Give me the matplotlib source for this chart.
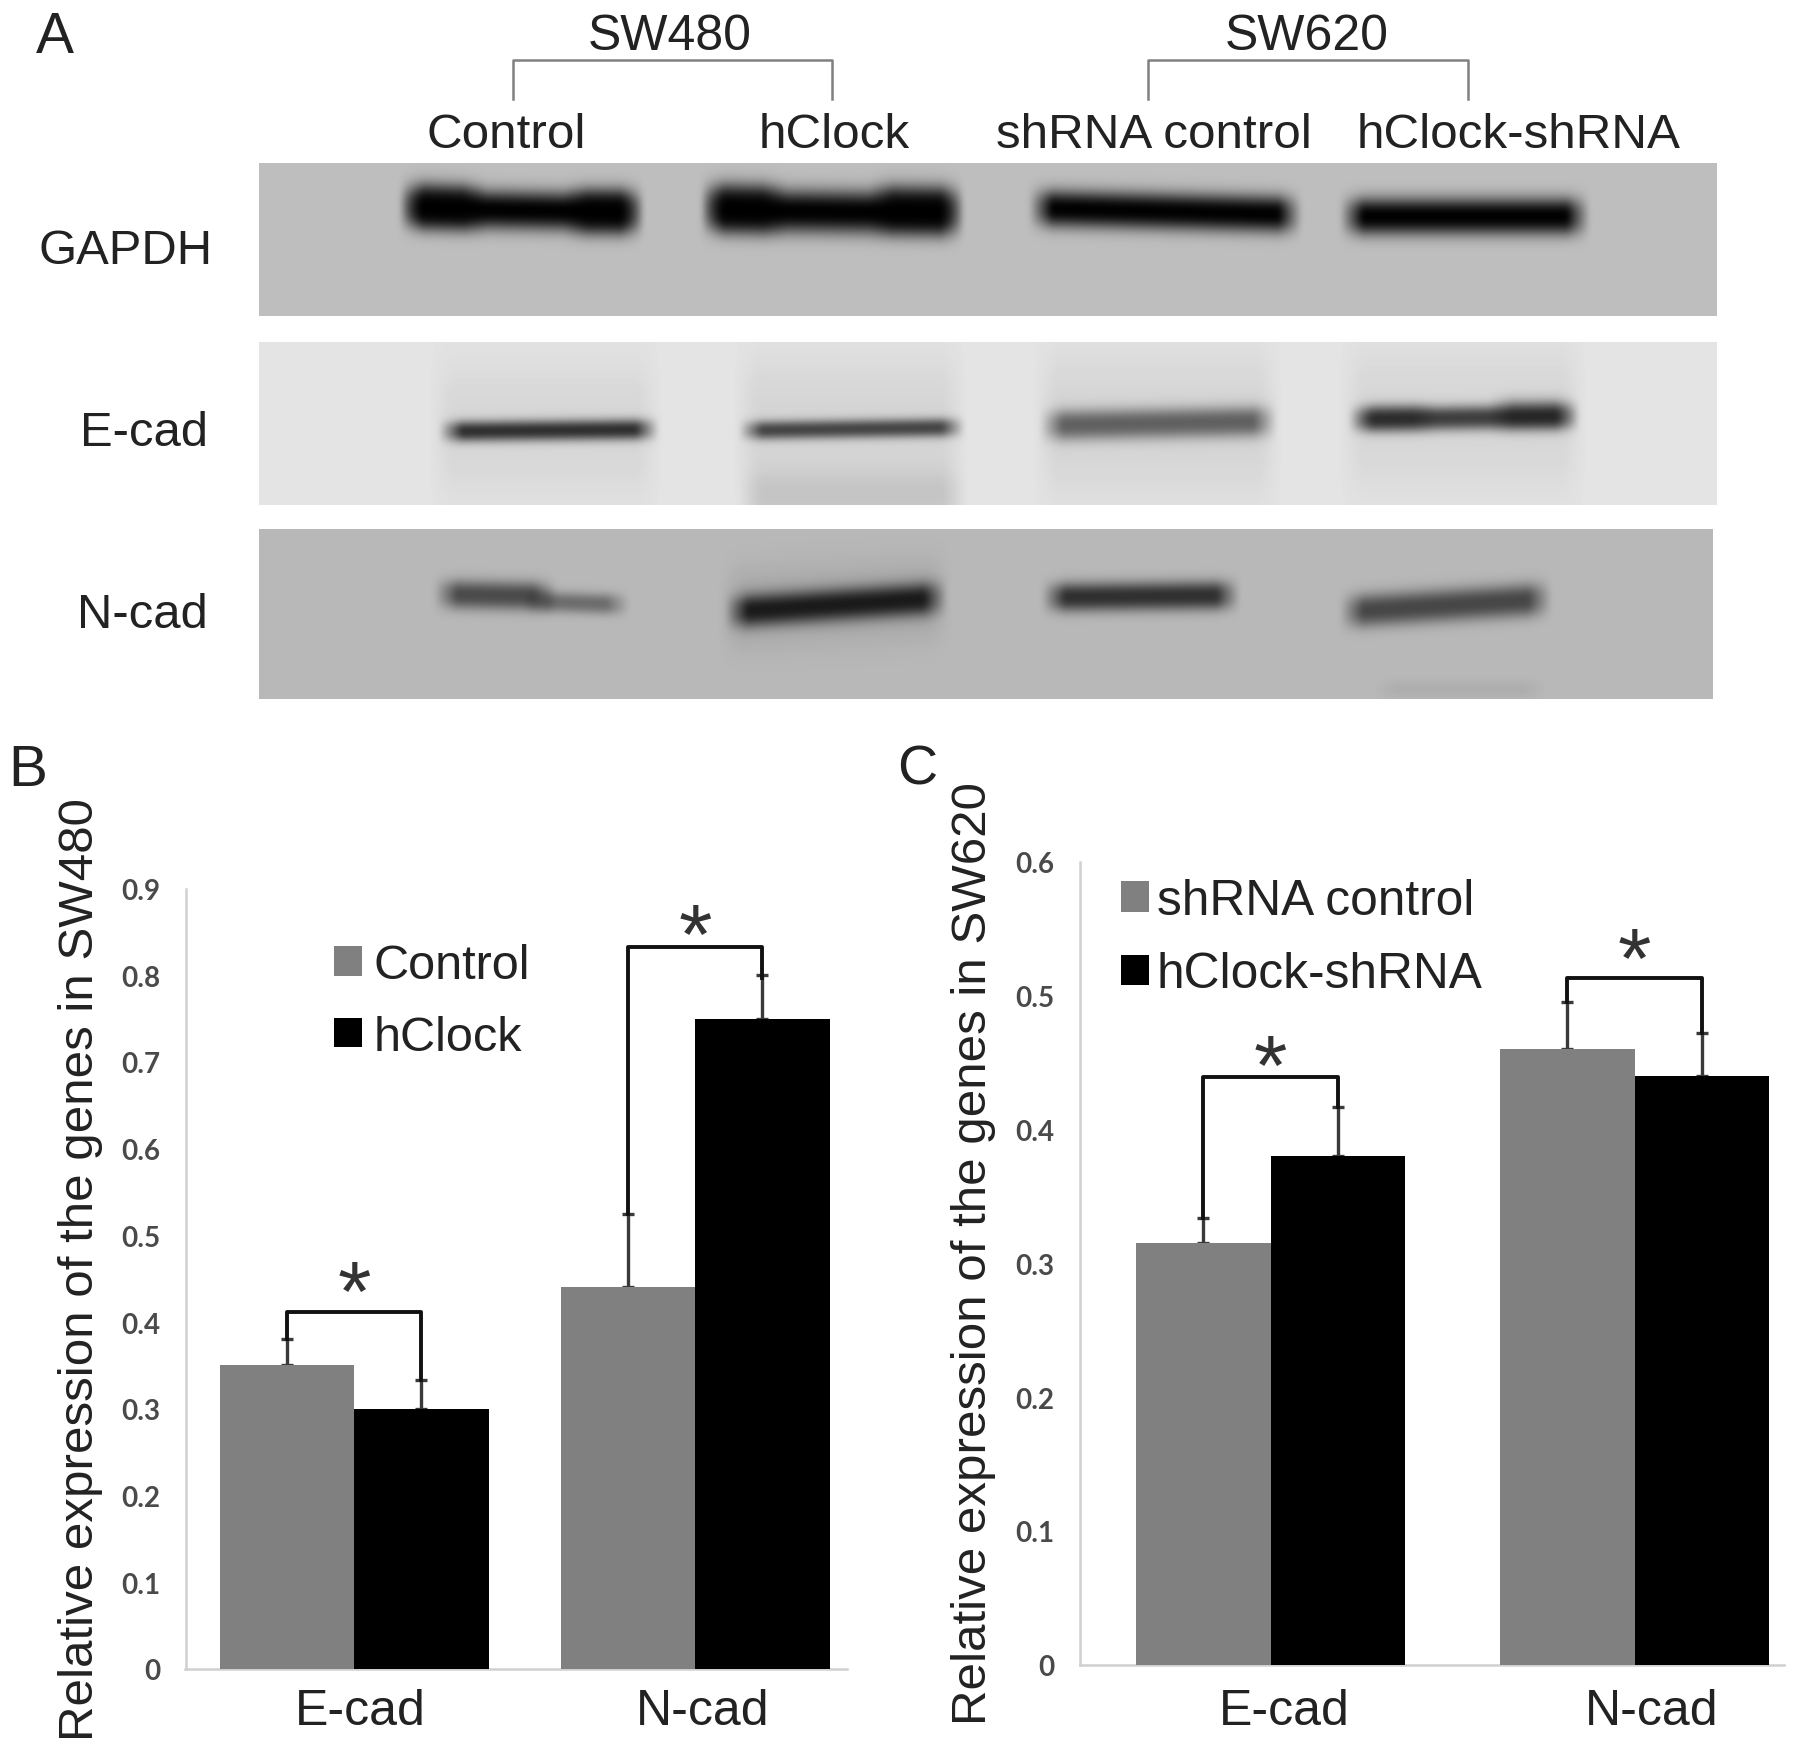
import matplotlib
matplotlib.use("Agg")
import matplotlib.pyplot as plt
import numpy as np

W, H = 1795, 1749
plt.rcParams['font.family'] = ['Liberation Sans', 'DejaVu Sans']

# panel A: blot lanes, measured in pixels of the figure
# each band is x0, x1, y at x0, y at x1, half thickness, darkness
gapdh_bands = [(410, 632, 209, 213, 19, 1.0), (712, 952, 211, 214, 21, 1.0),
               (1040, 1290, 209, 215, 18, 1.0), (1351, 1578, 217, 217, 18, 1.0),
               (412, 475, 205, 208, 21, 0.8), (575, 632, 212, 212, 21, 0.8),
               (712, 775, 207, 209, 22, 0.8), (880, 952, 209, 210, 22, 0.8)]
ecad_bands = [(450, 647, 432, 430, 10, 0.8), (750, 953, 431, 428, 9, 0.7),
              (1051, 1265, 426, 422, 15, 0.55), (1359, 1568, 420, 417, 12, 0.72),
              (1365, 1425, 418, 418, 13, 0.3), (1500, 1566, 415, 415, 15, 0.4),
              (440, 650, 430, 430, 70, 0.06), (745, 955, 430, 430, 75, 0.07),
              (1045, 1270, 425, 425, 75, 0.07), (1350, 1575, 420, 420, 75, 0.06),
              (750, 955, 500, 500, 28, 0.11)]
ncad_bands = [(445, 545, 595, 597, 14, 0.6), (535, 618, 602, 605, 10, 0.42),
              (736, 935, 612, 599, 16, 0.85), (1053, 1228, 598, 596, 14, 0.75),
              (1351, 1540, 612, 600, 16, 0.62), (730, 940, 610, 600, 40, 0.1),
              (1385, 1535, 690, 690, 8, 0.06)]
blot_boxes = [(259, 1717, 164, 317), (259, 1717, 343, 506), (259, 1713, 530, 700)]
blot_levels = [190, 228, 184]
blot_names = ["GAPDH", "E-cad", "N-cad"]
blot_name_right = [213, 208, 208]
blot_name_y = [252, 433, 616]

lane_names = ["Control", "hClock", "shRNA control", "hClock-shRNA"]
lane_x = [506, 834, 1154, 1519]
cell_names = ["SW480", "SW620"]
cell_x = [670, 1307]
cell_brackets = [(513, 832), (1148, 1468)]

# panel B
categories = ["E-cad", "N-cad"]
b_labels = ["Control", "hClock"]
b_control = [0.35, 0.44]
b_hclock = [0.30, 0.75]
b_control_err = [0.03, 0.085]
b_hclock_err = [0.033, 0.05]
b_sig_top = [0.412, 0.833]
b_sig_left = [0.38, 0.525]
b_sig_right = [0.333, 0.797]
b_yticks = [0, 0.1, 0.2, 0.3, 0.4, 0.5, 0.6, 0.7, 0.8, 0.9]

# panel C
c_labels = ["shRNA control", "hClock-shRNA"]
c_control = [0.315, 0.46]
c_shrna = [0.38, 0.44]
c_control_err = [0.019, 0.035]
c_shrna_err = [0.037, 0.032]
c_sig_top = [0.439, 0.513]
c_sig_left = [0.334, 0.495]
c_sig_right = [0.417, 0.472]
c_yticks = [0, 0.1, 0.2, 0.3, 0.4, 0.5, 0.6]


def box_blur(img, radius, passes=3):
    kernel = np.ones(2 * radius + 1) / (2 * radius + 1)
    padded = np.pad(img, radius * passes, mode="edge")
    for _ in range(passes):
        padded = np.apply_along_axis(np.convolve, 0, padded, kernel, mode="same")
        padded = np.apply_along_axis(np.convolve, 1, padded, kernel, mode="same")
    pad = radius * passes
    return padded[pad:-pad, pad:-pad]


def make_blot(box, level, bands):
    x0, x1, y0, y1 = box
    xx, yy = np.meshgrid(np.arange(x0, x1), np.arange(y0, y1))
    img = np.full(xx.shape, float(level))
    for bx0, bx1, by0, by1, half, dark in bands:
        t = (xx - bx0) / (bx1 - bx0)
        yc = by0 + (by1 - by0) * t
        edge = np.clip((xx - bx0 + 12) / 24, 0, 1) * np.clip((bx1 - xx + 12) / 24, 0, 1)
        across = np.exp(-np.abs((yy - yc) / half) ** 2.5)
        img = img * (1 - dark * edge * across)
    return box_blur(img, 2)


def pixel_axes(fig, left, right, top, bottom):
    return fig.add_axes([left / W, 1 - bottom / H, (right - left) / W, (bottom - top) / H])


def bar_panel(fig, box, xlim, ymax, yticks, first, second, first_err, second_err,
              width, tick_pos, sig_top, sig_left, sig_right, star_drop, xpad, ypad):
    ax = pixel_axes(fig, *box)
    x = np.arange(len(categories))
    ax.bar(x - width / 2, first, width, color="#808080", zorder=3)
    ax.bar(x + width / 2, second, width, color="#000000", zorder=3)
    for offset, values, err in ((-width / 2, first, first_err), (width / 2, second, second_err)):
        ax.errorbar(x + offset, values, yerr=[np.zeros(len(err)), err], fmt="none",
                    ecolor="#3a3a3a", elinewidth=2.4, capsize=4, capthick=2.4, zorder=2)
    for i in x:
        left, right = i - width / 2, i + width / 2
        ax.plot([left, left, right, right], [sig_left[i], sig_top[i], sig_top[i], sig_right[i]],
                color="#111111", lw=2.8, solid_joinstyle="round", zorder=4)
        ax.annotate("*", (i, sig_top[i]), xytext=(0, star_drop[i]), textcoords="offset points",
                    ha="center", va="baseline", fontsize=62, color="#333333")
    ax.set_xlim(*xlim)
    ax.set_ylim(0, ymax)
    ax.set_xticks(tick_pos)
    ax.set_xticklabels(categories, fontsize=36, color="#222222")
    ax.set_yticks(yticks)
    ax.set_yticklabels([f"{v:g}" for v in yticks], fontsize=20, fontweight="bold",
                       family="Lato", color="#4a4a4a")
    ax.tick_params(axis="both", length=0)
    ax.tick_params(axis="x", pad=xpad)
    ax.tick_params(axis="y", pad=ypad)
    for side in ("top", "right"):
        ax.spines[side].set_visible(False)
    for side in ("left", "bottom"):
        ax.spines[side].set_color("#d0d0d0")
        ax.spines[side].set_linewidth(1.8)
    return ax


fig = plt.figure(figsize=(W / 100, H / 100), dpi=100)

over = fig.add_axes([0, 0, 1, 1])
over.set_axis_off()
for box, level, bands in zip(blot_boxes, blot_levels, (gapdh_bands, ecad_bands, ncad_bands)):
    over.imshow(make_blot(box, level, bands), cmap="gray", vmin=0, vmax=255, aspect="auto",
                extent=(box[0], box[1], box[3], box[2]), interpolation="bilinear")
over.set_xlim(0, W)
over.set_ylim(H, 0)

for name, right, y in zip(blot_names, blot_name_right, blot_name_y):
    over.text(right, y, name, ha="right", va="center", fontsize=35.3, color="#222222")
for name, x in zip(lane_names, lane_x):
    over.text(x, 135, name, ha="center", va="center", fontsize=35.6, color="#222222")
for name, x in zip(cell_names, cell_x):
    over.text(x, 37, name, ha="center", va="center", fontsize=36, color="#222222")
for x0, x1 in cell_brackets:
    over.plot([x0, x0, x1, x1], [100, 61, 61, 100], color="#808080", lw=1.8)

over.text(36, 38, "A", ha="left", va="center", fontsize=41, color="#222222")
over.text(8, 771, "B", ha="left", va="center", fontsize=42, color="#222222")
over.text(897, 771, "C", ha="left", va="center", fontsize=40, color="#222222")
over.text(81, 1270, "Relative expression of the genes in SW480", rotation=90,
          ha="center", va="center", fontsize=35.5, color="#222222")
over.text(973, 1254, "Relative expression of the genes in SW620", rotation=90,
          ha="center", va="center", fontsize=35.5, color="#222222")

ax_b = bar_panel(fig, (185.5, 847, 889.5, 1670), (-0.495, 1.445), 0.9, b_yticks,
                 b_control, b_hclock, b_control_err, b_hclock_err, 0.394, [0.017, 1.023],
                 b_sig_top, b_sig_left, b_sig_right, (-6, -12), 14, 18)
ax_c = bar_panel(fig, (1079.6, 1783.6, 863, 1665.7), (-0.525, 1.409), 0.6, c_yticks,
                 c_control, c_shrna, c_control_err, c_shrna_err, 0.37, [0.038, 1.047],
                 c_sig_top, c_sig_left, c_sig_right, (-12, -6), 17, 18)

for ax, labels, anchor, size, gap in ((ax_b, b_labels, (0.225, 0.93), 35, 0.25),
                                      (ax_c, c_labels, (0.059, 0.98), 35.7, 0.16)):
    handles = ax.containers[:2]
    ax.legend(handles, labels, loc="upper left", bbox_to_anchor=anchor, frameon=False,
              fontsize=size, handlelength=0.56, handleheight=0.56, handletextpad=gap,
              labelspacing=0.55, labelcolor="#222222", borderpad=0, borderaxespad=0)

fig.savefig("out.png", dpi=100)
